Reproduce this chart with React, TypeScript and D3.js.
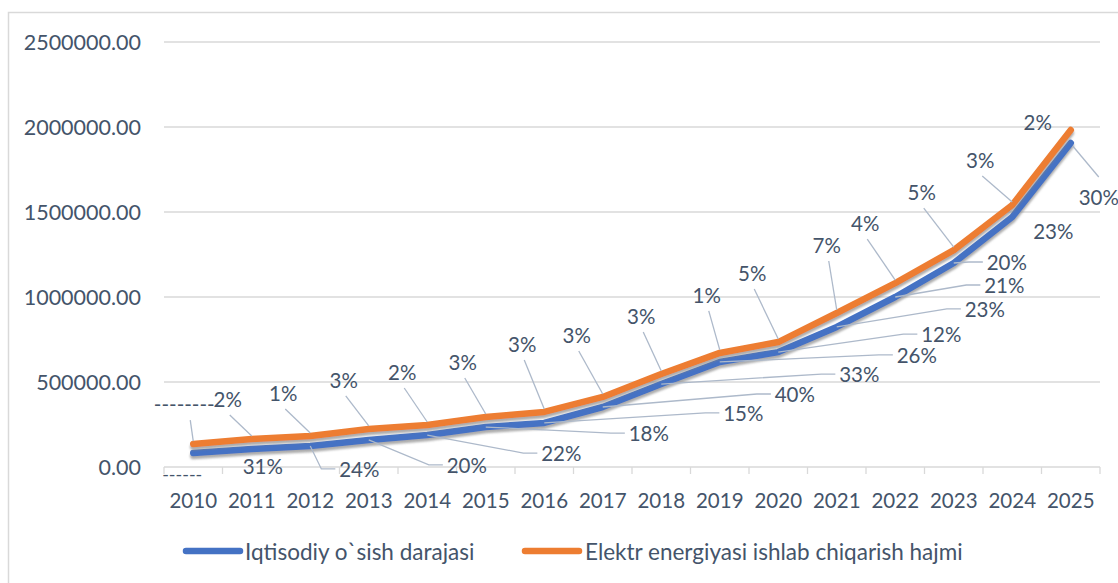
import React from 'react';
import * as d3 from 'd3';

const years = ['2010','2011','2012','2013','2014','2015','2016','2017','2018','2019','2020','2021','2022','2023','2024','2025'];
const growthSeries = [82000,106000,124000,159000,188000,235000,259000,353000,488000,618000,676000,824000,1000000,1200000,1471000,1906000];
const energySeries = [135000,165000,182000,224000,247000,294000,324000,412000,547000,671000,735000,906000,1082000,1276000,1541000,1982000];
const growthLabels = ['------','31%','24%','20%','22%','18%','15%','40%','33%','26%','12%','23%','21%','20%','23%','30%'];
const energyLabels = ['--------','2%','1%','3%','2%','3%','3%','3%','3%','1%','5%','7%','4%','5%','3%','2%'];
const yTicks = [0,500000,1000000,1500000,2000000,2500000];
const seriesNames = ['Iqtisodiy o`sish darajasi','Elektr energiyasi ishlab chiqarish hajmi'];

// layout: label offsets relative to the data point
const energyLabelOffsets: [number, number][] = [[-9,-40],[-24,-40],[-27,-43],[-25,-49],[-25,-53],[-23,-55],[-22,-68],[-26,-62],[-20,-58],[-13,-58],[-26,-69],[-10,-68],[-30,-60],[-32,-58],[-32,-45],[-33,-8]];
const growthLabelOffsets: [number, number][] = [[-11,21],[11,17],[49,23],[98,25],[134,18],[163,6],[199,-10],[192,-13],[198,-10],[197,-7],[163,-18],[148,-18],[109,-12],[53,-1],[41,14],[28,54]];
const growthLeader = ['none','none','h','h','h','h','h','h','h','h','h','h','h','h','none','up'];

const W = 1118, H = 583;
const FONT = 'Lato, "Open Sans", sans-serif';
const TXT = '#44546A';
const BLUE = '#4472C4';
const ORANGE = '#ED7D31';
const LEAD = '#ADB9CA';

export default function App() {
  const x = d3.scaleBand<string>().domain(years).range([164, 1100]).padding(0);
  const y = d3.scaleLinear().domain([0, 2500000]).range([467, 42]);
  const cx = (yr: string) => (x(yr) as number) + x.bandwidth() / 2;
  const line = d3.line<number>().x((_, i) => cx(years[i])).y(d => y(d));
  const fmt = d3.format('.2f');
  const pctW = (s: string) => s.length * 11.6 + 5;

  return (
    <svg width={W} height={H} style={{ position: 'absolute', left: 0, top: 0, background: '#fff' }} fontFamily={FONT}>
      <defs>
        <filter id="sh" x="-10%" y="-10%" width="120%" height="130%">
          <feDropShadow dx="0" dy="3" stdDeviation="1.2" floodColor="#808080" floodOpacity="0.65" />
        </filter>
      </defs>
      <rect x={8.5} y={12.5} width={1300} height={800} fill="#fff" stroke="#D9D9D9" strokeWidth={1.5} />
      {yTicks.map(t => (
        <g key={t}>
          <line x1={164} x2={1100} y1={y(t)} y2={y(t)} stroke="#D9D9D9" strokeWidth={1.3} />
          <text x={141} y={y(t)} textAnchor="end" dominantBaseline="central" fontSize={21.5} fill={TXT}>{fmt(t)}</text>
        </g>
      ))}
      {years.map((yr, i) => (
        <line key={'tk' + i} x1={x(yr) as number} x2={x(yr) as number} y1={467} y2={474} stroke="#D9D9D9" strokeWidth={1.3} />
      ))}
      <line x1={1100} x2={1100} y1={467} y2={474} stroke="#D9D9D9" strokeWidth={1.3} />
      {years.map((yr, i) => (
        <text key={'xl' + i} x={cx(yr)} y={499.5} textAnchor="middle" dominantBaseline="central" fontSize={20.5} fill={TXT}>{yr}</text>
      ))}
      <path d={line(growthSeries) || ''} fill="none" stroke={BLUE} strokeWidth={6.5} strokeLinecap="round" strokeLinejoin="round" filter="url(#sh)" />
      <path d={line(energySeries) || ''} fill="none" stroke={ORANGE} strokeWidth={6.5} strokeLinecap="round" strokeLinejoin="round" filter="url(#sh)" />
      {energySeries.map((v, i) => {
        const px = cx(years[i]), py = y(v);
        const [dx, dy] = energyLabelOffsets[i];
        const lx = px + dx, ly = py + dy;
        return (
          <g key={'el' + i}>
            {i < years.length - 1 && (
              <line x1={i === 0 ? lx + 6 : lx + 2} y1={ly + 16} x2={px} y2={py - 3} stroke={LEAD} strokeWidth={1.3} />
            )}
            <text x={lx} y={ly} textAnchor="middle" dominantBaseline="central" fontSize={20.5} fill={TXT}>{energyLabels[i]}</text>
          </g>
        );
      })}
      {growthSeries.map((v, i) => {
        const px = cx(years[i]), py = y(v);
        const [dx, dy] = growthLabelOffsets[i];
        const lx = px + dx, ly = py + dy;
        const left = lx - pctW(growthLabels[i]) / 2;
        let leader = null;
        if (growthLeader[i] === 'h') {
          const p = `M${left - 4},${ly} L${left - 18},${ly} L${px},${py}`;
          leader = <path d={p} fill="none" stroke={LEAD} strokeWidth={1.3} />;
        } else if (growthLeader[i] === 'up') {
          leader = <line x1={lx} y1={ly - 20} x2={px + 2} y2={py + 3} stroke={LEAD} strokeWidth={1.3} />;
        }
        return (
          <g key={'gl' + i}>
            {leader}
            <text x={lx} y={ly} textAnchor="middle" dominantBaseline="central" fontSize={i === 0 ? 18 : 20.5} fill={TXT}>{growthLabels[i]}</text>
          </g>
        );
      })}
      <line x1={186} x2={240} y1={551} y2={551} stroke={BLUE} strokeWidth={6.5} strokeLinecap="round" />
      <text x={245} y={551} dominantBaseline="central" fontSize={22.5} fill={TXT}>{seriesNames[0]}</text>
      <line x1={525} x2={579} y1={551} y2={551} stroke={ORANGE} strokeWidth={6.5} strokeLinecap="round" />
      <text x={585} y={551} dominantBaseline="central" fontSize={22.5} fill={TXT}>{seriesNames[1]}</text>
    </svg>
  );
}
